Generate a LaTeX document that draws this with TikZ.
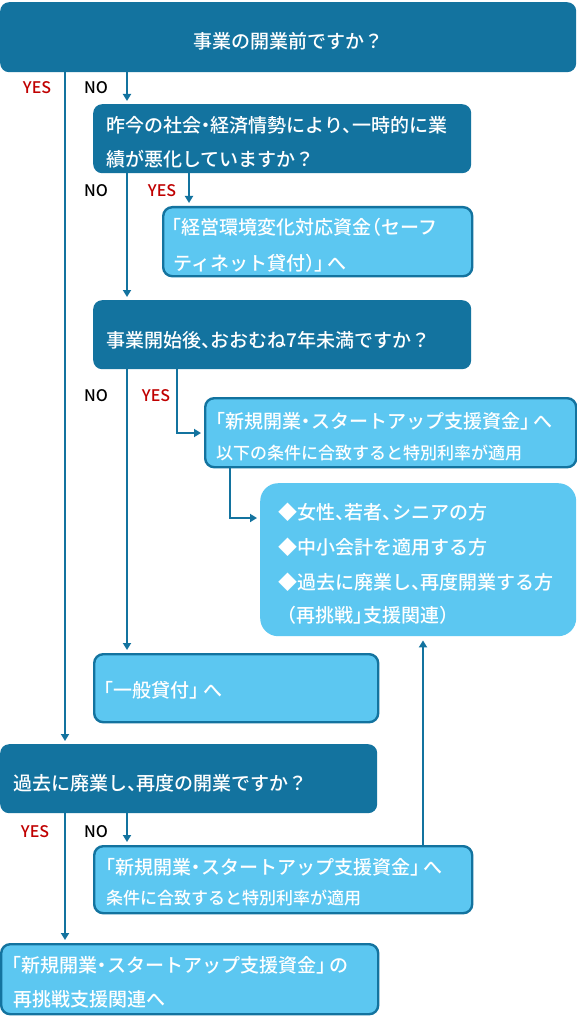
\documentclass[tikz,border=0pt]{standalone}
\usepackage{fontspec}
\setmainfont{Noto Sans CJK JP Medium}[RawFeature=+halt]
\usetikzlibrary{arrows.meta}
\definecolor{dk}{HTML}{13739F}
\definecolor{lt}{HTML}{5CC7F1}
\definecolor{yesred}{HTML}{C00000}
\newcommand{\gapq}{\hspace{.2em}}
\begin{document}
\begin{tikzpicture}[x=1pt,y=-1pt,
  dbox/.style={fill=dk, draw=none, rounded corners=9pt, anchor=north west, inner sep=0pt},
  lbox/.style={fill=lt, draw=dk, line width=2.4pt, rounded corners=9pt, anchor=north west, inner sep=0pt},
  cbox/.style={fill=lt, draw=none, rounded corners=18pt, anchor=north west, inner sep=0pt},
  wt/.style={text=white, font=\fontsize{19}{19}\selectfont, inner sep=0pt, anchor=base west},
  st/.style={text=white, font=\fontsize{17}{17}\selectfont, inner sep=0pt, anchor=base west},
  lab/.style={font=\fontsize{16}{16}\selectfont, inner sep=0pt, anchor=base},
  yeslab/.style={lab, text=yesred},
  nolab/.style={lab, text=black},
  conn/.style={draw=dk, line width=2.2pt, -{Triangle[length=7pt,width=8pt]}, shorten >=3pt},
]
\useasboundingbox (0,0) rectangle (576,1024);
\fill[white] (0,0) rectangle (576,1024);

% boxes
\node[dbox, minimum width=576pt, minimum height=70pt] (b1) at (0,2) {};
\node[dbox, minimum width=378pt, minimum height=69pt] (b2) at (93,104) {};
\node[lbox, minimum width=309pt, minimum height=69pt] (b3) at (162,206) {};
\node[dbox, minimum width=378pt, minimum height=69pt] (b4) at (93,300) {};
\node[lbox, minimum width=371pt, minimum height=69pt] (b5) at (204,397) {};
\node[cbox, minimum width=316pt, minimum height=153pt] (b6) at (260,483) {};
\node[lbox, minimum width=284pt, minimum height=68pt] (b7) at (93,653) {};
\node[dbox, minimum width=377pt, minimum height=69pt] (b8) at (0,744) {};
\node[lbox, minimum width=378pt, minimum height=67pt] (b9) at (93,845) {};
\node[lbox, minimum width=377pt, minimum height=70pt] (b10) at (0,943) {};

% texts
\node[wt, anchor=base] (t1) at (288,49) {事業の開業前ですか？};
\node[wt] (t2a) at (106,133) {昨今の社会・経済情勢により、一時的に業};
\node[wt] (t2b) at (106,167) {績が悪化していますか？};
\node[wt] (t3a) at (172,235) {「経営環境変化対応資金（セーフ};
\node[wt] (t3b) at (173,270) {ティネット貸付）」\gapq へ};
\node[wt] (t4) at (106,347) {事業開始後、おおむね7年未満ですか？};
\node[wt] (t5a) at (216,428) {「新規開業・スタートアップ支援資金」\gapq へ};
\node[st] (t5b) at (216,459) {以下の条件に合致すると特別利率が適用};
\node[wt] (t6a) at (278,519) {◆女性、若者、シニアの方};
\node[wt] (t6b) at (278,554) {◆中小会計を適用する方};
\node[wt] (t6c) at (278,589) {◆過去に廃業し、再度開業する方};
\node[wt] (t6d) at (287,622) {（再挑戦」支援関連）};
\node[wt] (t7) at (104,697) {「一般貸付」\gapq へ};
\node[wt] (t8) at (13,790) {過去に廃業し、再度の開業ですか？};
\node[wt] (t9a) at (106,874) {「新規開業・スタートアップ支援資金」\gapq へ};
\node[st] (t9b) at (106,904) {条件に合致すると特別利率が適用};
\node[wt] (t10a) at (12,972) {「新規開業・スタートアップ支援資金」\gapq の};
\node[wt] (t10b) at (13,1006) {再挑戦支援関連へ};

% labels
\node[yeslab] (y1) at (37,94) {YES};
\node[nolab] (n1) at (96,94) {NO};
\node[nolab] (n2) at (96,197) {NO};
\node[yeslab] (y2) at (162,197) {YES};
\node[nolab] (n3) at (96,401) {NO};
\node[yeslab] (y3) at (156,401) {YES};
\node[yeslab] (y4) at (35,837) {YES};
\node[nolab] (n4) at (96,837) {NO};

% connectors
\draw[conn] ([xshift=65pt]b1.south west) -- ([xshift=65pt]b8.north west);
\draw[conn] ([xshift=127pt]b1.south west) -- ([xshift=34pt]b2.north west);
\draw[conn] ([xshift=96pt]b2.south west) -- ([xshift=27pt]b3.north west);
\draw[conn] ([xshift=34pt]b2.south west) -- ([xshift=34pt]b4.north west);
\draw[conn] ([xshift=34pt]b4.south west) -- ([xshift=34pt]b7.north west);
\draw[conn] ([xshift=84pt]b4.south west) |- ([yshift=-36pt]b5.north west);
\draw[conn] ([xshift=26pt]b5.south west) |- ([yshift=-35pt]b6.north west);
\draw[conn] ([xshift=127pt]b8.south west) -- ([xshift=34pt]b9.north west);
\draw[conn] ([xshift=65pt]b8.south west) -- ([xshift=65pt]b10.north west);
\draw[conn, shorten >=4pt] ([xshift=330pt]b9.north west) -- ([xshift=163pt]b6.south west);
\end{tikzpicture}
\end{document}
